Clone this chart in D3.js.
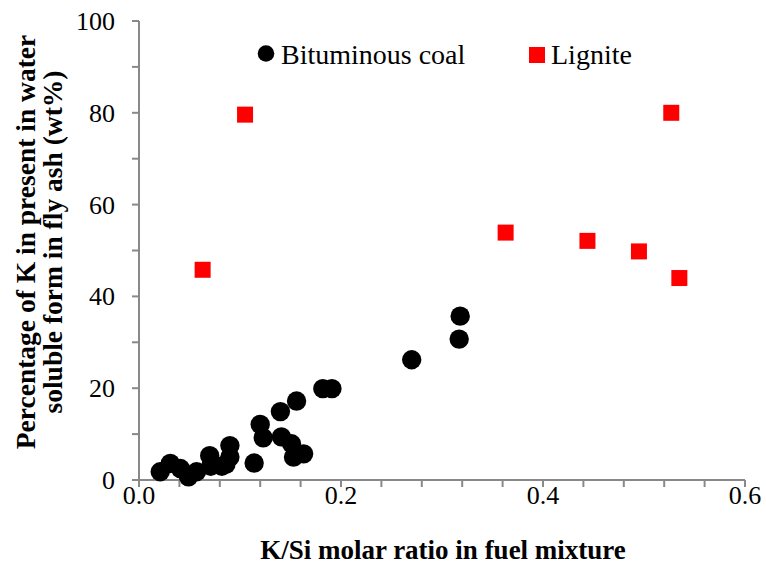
<!DOCTYPE html>
<html>
<head>
<meta charset="utf-8">
<script src="https://cdn.jsdelivr.net/npm/d3@7"></script>
<style>
  html, body { margin: 0; padding: 0; background: #fff; }
  svg { display: block; }
  text { font-family: "Liberation Serif", "Times New Roman", Times, "DejaVu Serif", serif; }
</style>
</head>
<body>
<script>
// K/Si molar ratio vs. water-soluble K fraction in fly ash
const bituminousX = [0.021, 0.031, 0.041, 0.049, 0.057, 0.070, 0.071, 0.082, 0.090, 0.090, 0.086,
                     0.114, 0.120, 0.123, 0.140, 0.141, 0.151, 0.153, 0.163, 0.156, 0.182, 0.191,
                     0.270, 0.317, 0.318];
const bituminousY = [1.8, 3.6, 2.5, 0.7, 1.8, 5.3, 3.0, 3.0, 7.5, 5.0, 3.4,
                     3.7, 12.1, 9.2, 14.9, 9.4, 7.9, 5.0, 5.7, 17.2, 19.9, 19.9,
                     26.2, 30.7, 35.7];
const ligniteX = [0.063, 0.105, 0.363, 0.444, 0.495, 0.527, 0.535];
const ligniteY = [45.8, 79.6, 53.9, 52.1, 49.8, 80.0, 44.0];

const xTicks = [0.0, 0.2, 0.4, 0.6];
const yTicks = [0, 20, 40, 60, 80, 100];
const seriesNames = ["Bituminous coal", "Lignite"];

const W = 766, H = 567;
const svg = d3.select("body").append("svg").attr("width", W).attr("height", H);

const x = d3.scaleLinear().domain([0, 0.6]).range([139, 745]);
const y = d3.scaleLinear().domain([0, 100]).range([480, 21]);
const axisColor = "#898989";

// minor ticks (every 0.04 on x, 10 on y)
const xMinor = d3.range(0, 0.6001, 0.04);
const yMinor = d3.range(0, 100.01, 10);

const gx = svg.append("g").attr("transform", `translate(0,${y(0)})`);
gx.append("line").attr("x1", x(0)).attr("x2", x(0.6)).attr("stroke", axisColor).attr("stroke-width", 2);
gx.selectAll("line.t").data(xMinor).join("line").attr("class", "t")
  .attr("x1", d => x(d)).attr("x2", d => x(d)).attr("y1", 0).attr("y2", 7)
  .attr("stroke", axisColor).attr("stroke-width", 2);
gx.selectAll("text").data(xTicks).join("text")
  .attr("x", d => x(d)).attr("y", 24).attr("text-anchor", "middle")
  .attr("font-size", 26).attr("fill", "#000")
  .text(d => d3.format(".1f")(d));

const gy = svg.append("g").attr("transform", `translate(${x(0)},0)`);
gy.append("line").attr("y1", y(0)).attr("y2", y(100)).attr("stroke", axisColor).attr("stroke-width", 2);
gy.selectAll("line.t").data(yMinor).join("line").attr("class", "t")
  .attr("y1", d => y(d)).attr("y2", d => y(d)).attr("x1", 0).attr("x2", -7)
  .attr("stroke", axisColor).attr("stroke-width", 2);
gy.selectAll("text").data(yTicks).join("text")
  .attr("x", -24).attr("y", d => y(d) + 9).attr("text-anchor", "end")
  .attr("font-size", 26).attr("fill", "#000")
  .text(d => d);

// axis titles
svg.append("text").attr("x", (x(0) + x(0.6)) / 2 + 1).attr("y", 559)
  .attr("text-anchor", "middle").attr("font-weight", "bold")
  .attr("font-size", 27).text("K/Si molar ratio in fuel mixture");

const yt = svg.append("text").attr("transform", "translate(0,242) rotate(-90)")
  .attr("text-anchor", "middle").attr("font-weight", "bold")
  .attr("font-size", 27.5);
yt.append("tspan").attr("x", 0).attr("y", 35).text("Percentage of K in present in water");
yt.append("tspan").attr("x", 0).attr("y", 62).text("soluble form in fly ash (wt%)");

// data marks
const bit = d3.zip(bituminousX, bituminousY);
const lig = d3.zip(ligniteX, ligniteY);

svg.append("g").selectAll("circle").data(bit).join("circle")
  .attr("cx", d => x(d[0])).attr("cy", d => y(d[1])).attr("r", 9.7).attr("fill", "#000");

const sq = 16;
svg.append("g").selectAll("rect").data(lig).join("rect")
  .attr("x", d => x(d[0]) - sq / 2).attr("y", d => y(d[1]) - sq / 2)
  .attr("width", sq).attr("height", sq).attr("fill", "#ff0000");

// legend
const lg = svg.append("g");
lg.append("circle").attr("cx", 266).attr("cy", 53.5).attr("r", 8.3).attr("fill", "#000");
lg.append("text").attr("x", 281).attr("y", 64).attr("font-size", 28)
  .text(seriesNames[0]);
lg.append("rect").attr("x", 529).attr("y", 47).attr("width", sq).attr("height", sq).attr("fill", "#ff0000");
lg.append("text").attr("x", 551).attr("y", 64).attr("font-size", 28)
  .text(seriesNames[1]);
</script>
</body>
</html>
